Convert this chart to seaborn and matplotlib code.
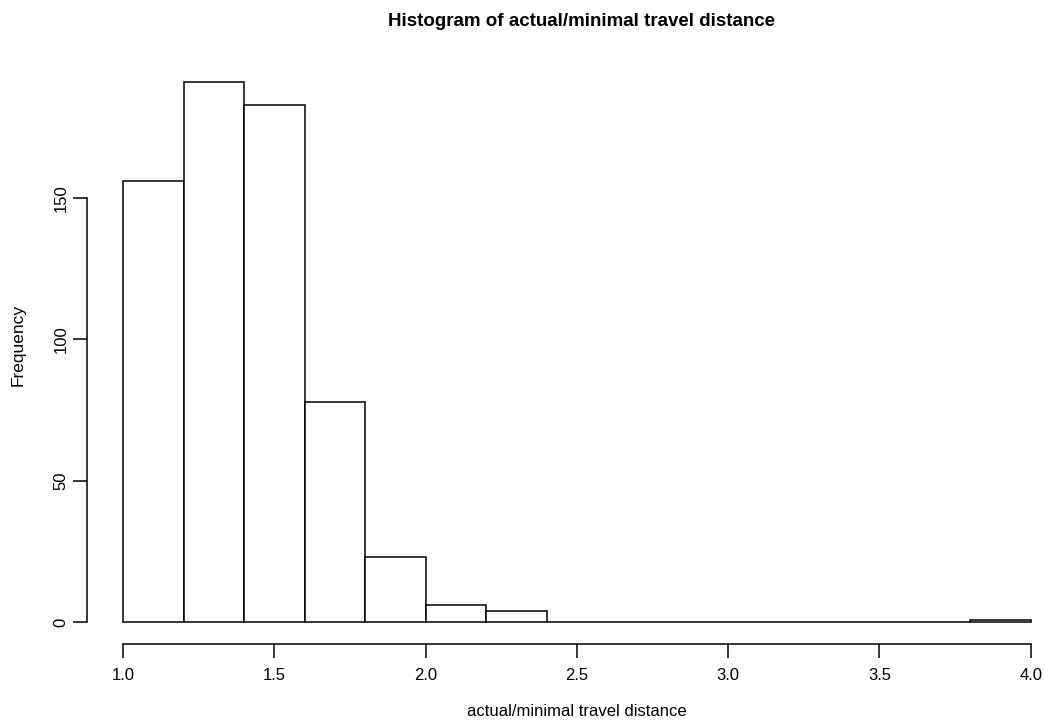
import numpy as np
import pandas as pd
import matplotlib
matplotlib.use("Agg")
import matplotlib.pyplot as plt
import seaborn as sns

# histogram bins and counts
bin_edges = [1.0, 1.2, 1.4, 1.6, 1.8, 2.0, 2.2, 2.4, 2.6, 2.8, 3.0, 3.2, 3.4, 3.6, 3.8, 4.0]
counts = [156, 191, 183, 78, 23, 6, 4, 0, 0, 0, 0, 0, 0, 0, 1]
x_ticks = [1.0, 1.5, 2.0, 2.5, 3.0, 3.5, 4.0]
y_ticks = [0, 50, 100, 150]

sns.set_style("white")
plt.rcParams['font.family'] = ['Liberation Sans', 'DejaVu Sans']
plt.rcParams['text.color'] = 'black'

centers = [(a + b) / 2 for a, b in zip(bin_edges[:-1], bin_edges[1:])]
df = pd.DataFrame({'ratio': centers, 'n': counts})

fig = plt.figure(figsize=(10.45, 7.22), dpi=100)
ax = fig.add_axes([86.7 / 1045, 1 - 644 / 722, 980.3 / 1045, 583.6 / 722])

sns.histplot(data=df, x='ratio', weights='n', bins=bin_edges, ax=ax,
             color='white', edgecolor='black', linewidth=1.1, alpha=1)

# R-style extended limits (4%)
ax.set_xlim(0.88, 4.12)
ax.set_ylim(-0.04 * 191, 191 * 1.04)

for s in ['top', 'right']:
    ax.spines[s].set_visible(False)
ax.spines['bottom'].set_bounds(1.0, 4.0)
ax.spines['left'].set_bounds(0, 150)
for s in ['bottom', 'left']:
    ax.spines[s].set_color('black')
    ax.spines[s].set_linewidth(1.1)

ax.set_xticks(x_ticks)
ax.set_xticklabels([f"{v:.1f}" for v in x_ticks])
ax.set_yticks(y_ticks)
ax.set_yticklabels([str(v) for v in y_ticks], rotation=90, va='center')
ax.tick_params(axis='both', direction='out', length=10, width=1.1, colors='black',
               labelsize=12, bottom=True, left=True)
ax.tick_params(axis='x', pad=7)
ax.tick_params(axis='y', pad=3)
ax.set_xlabel('')
ax.set_ylabel('')

fig.text(577 / 1045, 1 - 712 / 722, 'actual/minimal travel distance',
         ha='center', va='center', fontsize=12, color='black')
fig.text(18 / 1045, 1 - 345 / 722, 'Frequency', rotation=90,
         ha='center', va='center', fontsize=12.5, color='black')
fig.text(581 / 1045, 1 - 21 / 722, 'Histogram of actual/minimal travel distance',
         ha='center', va='center', fontsize=13.5, fontweight='bold', color='black')

fig.savefig('out.png', dpi=100)
